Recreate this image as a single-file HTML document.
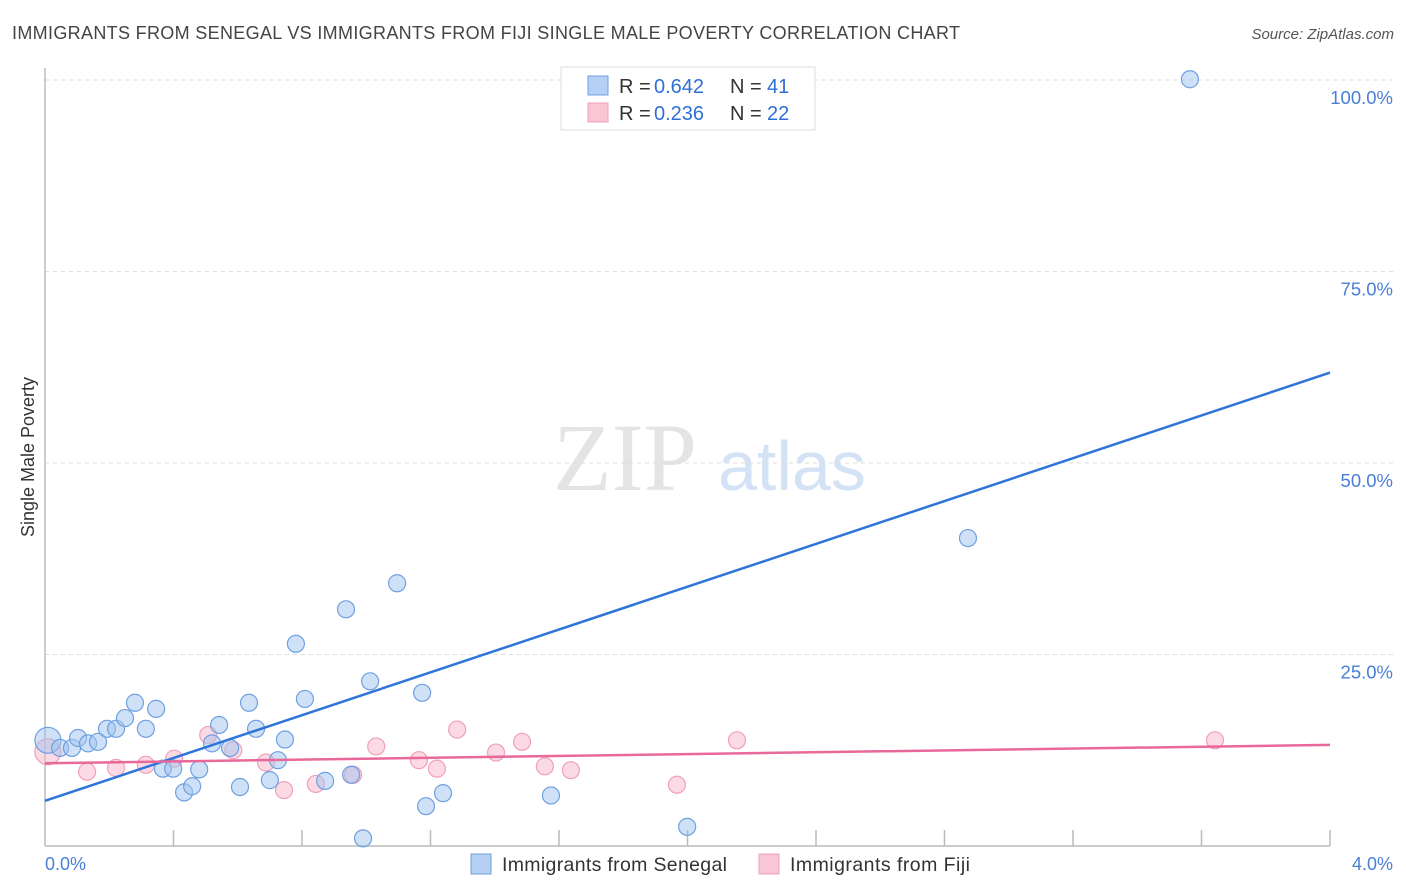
<!DOCTYPE html>
<html><head><meta charset="utf-8">
<style>
body{margin:0;background:#fff;font-family:"Liberation Sans",sans-serif;}
</style></head>
<body>
<svg id="chart" width="1406" height="892" xmlns="http://www.w3.org/2000/svg" style="display:block">
<text x="12" y="39" font-size="18" fill="#444" textLength="948">IMMIGRANTS FROM SENEGAL VS IMMIGRANTS FROM FIJI SINGLE MALE POVERTY CORRELATION CHART</text>
<text x="1394" y="39" font-size="15" fill="#555" font-style="italic" text-anchor="end">Source: ZipAtlas.com</text>
<g>
<text x="553" y="490" font-family="Liberation Serif,serif" font-size="96" fill="#e4e4e4">ZIP</text>
<text x="718" y="490" font-size="70" fill="#d4e2f6">atlas</text>
</g>
<g id="grid"></g>
<line x1="45" y1="68" x2="45" y2="846" stroke="#bbb" stroke-width="1.5"/>
<line x1="45" y1="846" x2="1330" y2="846" stroke="#bbb" stroke-width="1.5"/>
<g id="ticks"></g>
<text transform="translate(34,457) rotate(-90)" font-size="18" fill="#333" text-anchor="middle">Single Male Poverty</text>
<text x="45" y="870" font-size="18" fill="#4a7fd6">0.0%</text>
<text x="1393" y="870" font-size="18" fill="#4a7fd6" text-anchor="end">4.0%</text>
<g id="points"></g>
<g id="lines"></g>
<g>
<rect x="561" y="67" width="254" height="63" fill="#fff" stroke="#ddd"/>
<rect x="588" y="76" width="20" height="19" fill="#b6d0f5" stroke="#6fa0e0"/>
<rect x="588" y="103" width="20" height="19" fill="#f9c6d6" stroke="#f0a0b8"/>
<text x="619" y="93" font-size="20" fill="#333">R =</text>
<text x="654" y="93" font-size="20" fill="#2f6fd6">0.642</text>
<text x="730" y="93" font-size="20" fill="#333">N =</text>
<text x="767" y="93" font-size="20" fill="#2f6fd6">41</text>
<text x="619" y="120" font-size="20" fill="#333">R =</text>
<text x="654" y="120" font-size="20" fill="#2f6fd6">0.236</text>
<text x="730" y="120" font-size="20" fill="#333">N =</text>
<text x="767" y="120" font-size="20" fill="#2f6fd6">22</text>
</g>
<g>
<rect x="471" y="854" width="20" height="20" fill="#b6d0f5" stroke="#6fa0e0"/>
<text x="502" y="871" font-size="19.5" fill="#333" textLength="225">Immigrants from Senegal</text>
<rect x="759" y="854" width="20" height="20" fill="#f9c6d6" stroke="#f0a0b8"/>
<text x="790" y="871" font-size="19.5" fill="#333" textLength="180">Immigrants from Fiji</text>
</g>
</svg>
<script>
const yTicks=[25,50,75,100];
const yTickLabels=["25.0%","50.0%","75.0%","100.0%"];
const xTicks=[0.4,0.8,1.2,1.6,2.0,2.4,2.8,3.2,3.6,4.0];
const senegalX=[0.009,0.047,0.084,0.103,0.134,0.165,0.193,0.221,0.249,0.280,0.314,0.346,0.367,0.399,0.433,0.458,0.480,0.520,0.542,0.576,0.607,0.635,0.657,0.700,0.725,0.747,0.781,0.809,0.872,0.937,0.953,0.990,1.012,1.096,1.174,1.186,1.239,1.575,1.999,2.873,3.564];
const senegalY=[13.8,12.8,12.8,14.1,13.4,13.6,15.3,15.3,16.7,18.7,15.3,17.9,10.1,10.1,7.0,7.8,10.0,13.4,15.8,12.8,7.7,18.7,15.3,8.6,11.2,13.9,26.4,19.2,8.5,30.9,9.3,1.0,21.5,34.3,20.0,5.2,6.9,6.6,2.5,40.2,100.1];
const fijiX=[0.009,0.131,0.221,0.314,0.402,0.508,0.586,0.688,0.744,0.843,0.959,1.031,1.164,1.220,1.283,1.404,1.485,1.556,1.637,1.967,2.154,3.642];
const fijiY=[12.3,9.7,10.2,10.6,11.4,14.5,12.5,10.9,7.3,8.1,9.3,13.0,11.2,10.1,15.2,12.2,13.6,10.4,9.9,8.0,13.8,13.8];
const senegalTrendX=[0,4];
const senegalTrendY=[5.9,61.8];
const fijiTrendX=[0,4];
const fijiTrendY=[10.8,13.2];

const NS="http://www.w3.org/2000/svg";
const sx=v=>45+v/4*1285;
const sy=v=>846-v/100*766;
function mk(tag,attrs,parent){const e=document.createElementNS(NS,tag);for(const k in attrs)e.setAttribute(k,attrs[k]);document.getElementById(parent).appendChild(e);return e;}
yTicks.forEach((t,i)=>{
  const l=mk('line',{x1:45,x2:1393,y1:sy(t),y2:sy(t),stroke:'#ddd','stroke-dasharray':'4,4'},'grid');
  
  
  const tx=mk('text',{x:1393,y:sy(t)+24,'font-size':18.5,fill:'#4a7fd6','text-anchor':'end'},'grid');
  tx.textContent=yTickLabels[i];
  
  
});
xTicks.forEach(t=>{
  const l=mk('line',{x1:sx(t),x2:sx(t),y1:830,y2:846,stroke:'#bbb','stroke-width':1.5},'ticks');
  
  
});
function pts(xs,ys,fill,stroke,name){
  xs.forEach((x,i)=>{
    const c=mk('circle',{cx:sx(x),cy:sy(ys[i]),r:i===0?13:8.5,fill:fill,stroke:stroke,'stroke-width':1.2},'points');
    
    
  });
}
pts(fijiX,fijiY,'rgba(248,182,204,0.5)','#f0a0b8','fiji-point');
pts(senegalX,senegalY,'rgba(160,196,240,0.5)','#6fa0e0','senegal-point');
const l1=mk('line',{x1:sx(senegalTrendX[0]),y1:sy(senegalTrendY[0]),x2:sx(senegalTrendX[1]),y2:sy(senegalTrendY[1]),stroke:'#2f74d8','stroke-width':2.5},'lines');


const l2=mk('line',{x1:sx(fijiTrendX[0]),y1:sy(fijiTrendY[0]),x2:sx(fijiTrendX[1]),y2:sy(fijiTrendY[1]),stroke:'#e8689a','stroke-width':2.5},'lines');


</script>
</body></html>
